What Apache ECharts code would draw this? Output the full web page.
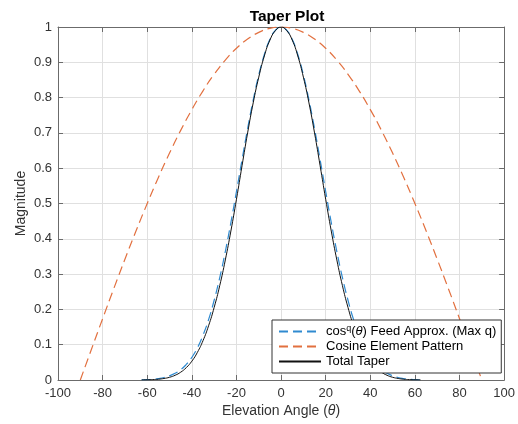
<!DOCTYPE html>
<html>
<head>
<meta charset="utf-8">
<script src="https://cdn.jsdelivr.net/npm/echarts@6/dist/echarts.min.js"></script>
<style>html,body{margin:0;padding:0;background:#fff}#c{width:518px;height:424px}</style>
</head>
<body>
<div id="c"></div>
<script>
// Tick labels / axis ranges
const xTicks = [-100, -80, -60, -40, -20, 0, 20, 40, 60, 80, 100];
const yTicks = [0, 0.1, 0.2, 0.3, 0.4, 0.5, 0.6, 0.7, 0.8, 0.9, 1];

// Angles for feed approx (blue) and total taper (black)
const taperAngles = [-62.5, -60, -57.5, -55, -52.5, -50, -47.5, -45, -42.5, -40, -37.5, -35, -32.5, -30, -27.5, -25, -22.5, -20, -17.5, -15, -12.5, -10, -7.5, -5, -2.5, 0,
  2.5, 5, 7.5, 10, 12.5, 15, 17.5, 20, 22.5, 25, 27.5, 30, 32.5, 35, 37.5, 40, 42.5, 45, 47.5, 50, 52.5, 55, 57.5, 60, 62.5];

// cos^q(theta) Feed Approx. (Max q)
const feedValues = [0.0004, 0.001, 0.002, 0.004, 0.007, 0.012, 0.019, 0.029, 0.044, 0.064, 0.091, 0.127, 0.171, 0.226, 0.290, 0.364, 0.446, 0.534, 0.624, 0.712, 0.793, 0.864, 0.922, 0.965, 0.991, 1,
  0.991, 0.965, 0.922, 0.864, 0.793, 0.712, 0.624, 0.534, 0.446, 0.364, 0.290, 0.226, 0.171, 0.127, 0.091, 0.064, 0.044, 0.029, 0.019, 0.012, 0.007, 0.004, 0.002, 0.001, 0.0004];

// Total Taper
const totalValues = [0.0002, 0.0005, 0.0011, 0.0022, 0.0043, 0.0077, 0.0134, 0.0221, 0.035, 0.0533, 0.0784, 0.1114, 0.1536, 0.2055, 0.2674, 0.340, 0.422, 0.512, 0.607, 0.700, 0.785, 0.858, 0.918, 0.963, 0.990, 1,
  0.990, 0.963, 0.918, 0.858, 0.785, 0.700, 0.607, 0.512, 0.422, 0.340, 0.2674, 0.2055, 0.1536, 0.1114, 0.0784, 0.0533, 0.035, 0.0221, 0.0134, 0.0077, 0.0043, 0.0022, 0.0011, 0.0005, 0.0002];

// Cosine Element Pattern
const cosAngles = [-90, -85, -80, -75, -70, -65, -60, -55, -50, -45, -40, -35, -30, -25, -20, -15, -10, -5, 0, 5, 10, 15, 20, 25, 30, 35, 40, 45, 50, 55, 60, 65, 70, 75, 80, 85, 90];
const cosValues = [0, 0.0872, 0.1736, 0.2588, 0.3420, 0.4226, 0.5, 0.5736, 0.6428, 0.7071, 0.7660, 0.8192, 0.8660, 0.9063, 0.9397, 0.9659, 0.9848, 0.9962, 1,
  0.9962, 0.9848, 0.9659, 0.9397, 0.9063, 0.8660, 0.8192, 0.7660, 0.7071, 0.6428, 0.5736, 0.5, 0.4226, 0.3420, 0.2588, 0.1736, 0.0872, 0];

const seriesNames = ['Feed', 'Cosine Element Pattern', 'Total Taper'];

const FONT = '"Liberation Sans", Arial, Helvetica, sans-serif';
const pair = (xs, ys) => xs.map((x, i) => [x, ys[i]]);

const chart = echarts.init(document.getElementById('c'), null, {renderer: 'canvas'});
const axisLineStyle = {color: '#6b6b6b', width: 1};
const option = {
  animation: false,
  backgroundColor: '#fff',
  textStyle: {fontFamily: FONT},
  title: {
    text: 'Taper Plot', left: 282, top: 4, textAlign: 'center',
    textStyle: {fontFamily: FONT, fontSize: 15.5, fontWeight: 'bold', color: '#000'}
  },
  grid: {left: 58, top: 27, width: 448, height: 353, containLabel: false},
  legend: {
    orient: 'vertical', left: 272, top: 320, align: 'left',
    data: seriesNames,
    backgroundColor: '#fff', borderColor: '#333', borderWidth: 1,
    padding: [4, 5, 4, 6], itemWidth: 42, itemHeight: 10, itemGap: 0,
    itemStyle: {opacity: 0},
    formatter: function (name) {
      if (name === 'Feed') return 'cos{sup|q}({it|θ}) Feed Approx. (Max q)';
      return name;
    },
    textStyle: {
      fontFamily: FONT, fontSize: 13, color: '#000', lineHeight: 15,
      rich: {
        sup: {fontFamily: FONT, fontSize: 9, verticalAlign: 'top', lineHeight: 10, color: '#000'},
        it: {fontFamily: FONT, fontSize: 13, fontStyle: 'italic', color: '#000', lineHeight: 15}
      }
    }
  },
  xAxis: [{
    type: 'value', min: -100, max: 100, interval: 20, position: 'bottom',
    name: 'Elevation Angle ({it|θ})', nameLocation: 'middle', nameGap: 24,
    nameMoveOverlap: false,
    nameTextStyle: {fontFamily: FONT, fontSize: 14, color: '#333',
      rich: {it: {fontFamily: FONT, fontSize: 14, fontStyle: 'italic', color: '#333'}}},
    axisLine: {show: true, onZero: false, lineStyle: axisLineStyle},
    axisTick: {show: true, inside: true, length: 5, lineStyle: axisLineStyle},
    axisLabel: {fontFamily: FONT, fontSize: 13, color: '#333', margin: 7,
      formatter: v => xTicks.includes(v) ? String(v) : ''},
    splitLine: {show: true, lineStyle: {color: '#e0e0e0', width: 1}}
  }, {
    type: 'value', min: -100, max: 100, interval: 20, position: 'top',
    axisLine: {show: true, onZero: false, lineStyle: axisLineStyle},
    axisTick: {show: true, inside: true, length: 5, lineStyle: axisLineStyle},
    axisLabel: {show: false}, splitLine: {show: false}
  }],
  yAxis: [{
    type: 'value', min: 0, max: 1, interval: 0.1, position: 'left',
    name: 'Magnitude', nameLocation: 'middle', nameGap: 30,
    nameMoveOverlap: false,
    nameTextStyle: {fontFamily: FONT, fontSize: 14, color: '#333'},
    axisLine: {show: true, onZero: false, lineStyle: axisLineStyle},
    axisTick: {show: true, inside: true, length: 5, lineStyle: axisLineStyle},
    axisLabel: {fontFamily: FONT, fontSize: 13, color: '#333', margin: 6,
      formatter: v => { const r = Math.round(v * 10) / 10; return yTicks.includes(r) ? String(r) : ''; }},
    splitLine: {show: true, lineStyle: {color: '#e0e0e0', width: 1}}
  }, {
    type: 'value', min: 0, max: 1, interval: 0.1, position: 'right',
    axisLine: {show: true, onZero: false, lineStyle: axisLineStyle},
    axisTick: {show: true, inside: true, length: 5, lineStyle: axisLineStyle},
    axisLabel: {show: false}, splitLine: {show: false}
  }],
  series: [{
    name: 'Feed', type: 'line', smooth: true, symbol: 'none',
    data: pair(taperAngles, feedValues),
    itemStyle: {color: '#2f8ad0'},
    lineStyle: {color: '#2f8ad0', width: 1.2, type: [9, 5]}
  }, {
    name: 'Cosine Element Pattern', type: 'line', smooth: true, symbol: 'none',
    data: pair(cosAngles, cosValues),
    itemStyle: {color: '#e2703f'},
    lineStyle: {color: '#e2703f', width: 1.2, type: [9, 5]}
  }, {
    name: 'Total Taper', type: 'line', smooth: true, symbol: 'none',
    data: pair(taperAngles, totalValues),
    itemStyle: {color: '#111'},
    lineStyle: {color: '#111', width: 1, type: 'solid'}
  }]
};
chart.setOption(option);
</script>
</body>
</html>
